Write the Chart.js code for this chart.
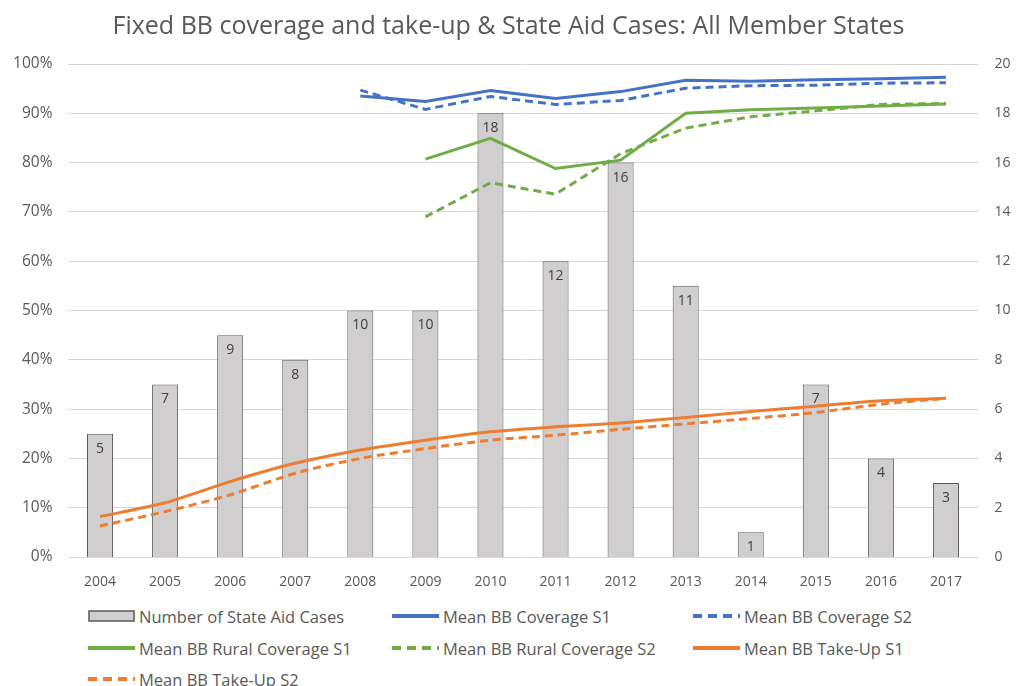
<!DOCTYPE html>
<html>
<head>
<meta charset="utf-8">
<script src="https://cdn.jsdelivr.net/npm/chart.js@4.4.1/dist/chart.umd.min.js"></script>
<style>
	body { margin: 0; background: #fff; font-family: 'Open Sans', sans-serif; }
	#wrap { position: relative; width: 1017px; height: 686px; overflow: hidden; }
	#chart { position: absolute; left: 0; top: 0; }
	.leg-item { position: absolute; display: flex; align-items: center; height: 24px;
		font-size: 16.5px; color: #595959; white-space: nowrap; }
	.leg-item svg { margin-right: 4px; }
</style>
</head>
<body>
<div id="wrap">
	<canvas id="chart" width="1017" height="600"></canvas>
	<div id="legend"></div>
</div>
<script>
const years = ['2004', '2005', '2006', '2007', '2008', '2009', '2010', '2011', '2012', '2013', '2014', '2015', '2016', '2017']

const stateAidCases = [5, 7, 9, 8, 10, 10, 18, 12, 16, 11, 1, 7, 4, 3]

const coverageS1 = [null, null, null, null, 0.935, 0.924, 0.946, 0.930, 0.944, 0.967, 0.965, 0.968, 0.970, 0.973]
const coverageS2 = [null, null, null, null, 0.947, 0.908, 0.934, 0.918, 0.926, 0.951, 0.956, 0.957, 0.961, 0.962]
const ruralS1 = [null, null, null, null, null, 0.807, 0.849, 0.788, 0.805, 0.900, 0.907, 0.911, 0.915, 0.919]
const ruralS2 = [null, null, null, null, null, 0.690, 0.759, 0.736, 0.818, 0.870, 0.893, 0.905, 0.918, 0.920]
const takeUpS1 = [0.082, 0.110, 0.153, 0.190, 0.217, 0.237, 0.254, 0.264, 0.272, 0.283, 0.295, 0.306, 0.317, 0.322]
const takeUpS2 = [0.063, 0.092, 0.126, 0.170, 0.200, 0.220, 0.237, 0.247, 0.259, 0.270, 0.281, 0.293, 0.310, 0.322]

const pctTicks = [0, 0.1, 0.2, 0.3, 0.4, 0.5, 0.6, 0.7, 0.8, 0.9, 1]
const countTicks = [0, 2, 4, 6, 8, 10, 12, 14, 16, 18, 20]

const BLUE = '#4472c4'
const GREEN = '#70ad47'
const ORANGE = '#ed7d31'
const TEXT = '#595959'
const FONT = "'Open Sans', sans-serif"

function lineSet(label, data, color, dashed, tension) {
	return {
		type: 'line',
		label: label,
		data: data,
		yAxisID: 'y',
		borderColor: color,
		backgroundColor: color,
		borderWidth: 3,
		borderDash: dashed ? [8, 5] : [],
		pointRadius: 0,
		tension: tension,
		spanGaps: false,
		order: 1,
	}
}

// bar value labels, placed inside the top of each bar
const barLabels = {
	id: 'barLabels',
	afterDatasetsDraw(chart) {
		const ctx = chart.ctx
		chart.data.datasets.forEach((ds, i) => {
			if (ds.type !== 'bar') return
			const meta = chart.getDatasetMeta(i)
			ctx.save()
			ctx.font = '14px ' + FONT
			ctx.fillStyle = '#404040'
			ctx.textAlign = 'center'
			ctx.textBaseline = 'middle'
			meta.data.forEach((bar, j) => {
				ctx.fillText(String(ds.data[j]), bar.x, bar.y + 15)
			})
			ctx.restore()
		})
	},
}

// legend in three columns below the chart
const legendCols = [88, 392, 693]
const legendRows = [616, 648, 679]

const htmlLegend = {
	id: 'htmlLegend',
	afterUpdate(chart) {
		const box = document.getElementById('legend')
		box.innerHTML = ''
		chart.data.datasets.forEach((ds, i) => {
			const item = document.createElement('div')
			item.className = 'leg-item'
			item.style.left = legendCols[i % 3] + 'px'
			item.style.top = legendRows[Math.floor(i / 3)] - 12 + 'px'
			let sym
			if (ds.type === 'bar') {
				sym = `<svg width="47" height="14"><rect x="1" y="2" width="45" height="10" fill="${ds.backgroundColor}" stroke="${ds.borderColor}" stroke-width="1.5"/></svg>`
			} else {
				const dash = ds.borderDash.length ? 'stroke-dasharray="9,6"' : ''
				sym = `<svg width="47" height="14"><line x1="0" y1="7" x2="47" y2="7" stroke="${ds.borderColor}" stroke-width="4" ${dash}/></svg>`
			}
			item.innerHTML = sym + '<span>' + ds.label + '</span>'
			box.appendChild(item)
		})
	},
}

const ctx = document.getElementById('chart').getContext('2d')
const chart = new Chart(ctx, {
	data: {
		labels: years,
		datasets: [
			{
				type: 'bar',
				label: 'Number of State Aid Cases',
				data: stateAidCases,
				yAxisID: 'y1',
				backgroundColor: '#d0cece',
				borderColor: '#595959',
				borderWidth: 1,
				barPercentage: 0.4,
				categoryPercentage: 1,
				order: 10,
			},
			lineSet('Mean BB Coverage S1', coverageS1, BLUE, false, 0),
			lineSet('Mean BB Coverage S2', coverageS2, BLUE, true, 0),
			lineSet('Mean BB Rural Coverage S1', ruralS1, GREEN, false, 0),
			lineSet('Mean BB Rural Coverage S2', ruralS2, GREEN, true, 0),
			lineSet('Mean BB Take-Up S1', takeUpS1, ORANGE, false, 0.25),
			lineSet('Mean BB Take-Up S2', takeUpS2, ORANGE, true, 0.25),
		],
	},
	options: {
		responsive: false,
		animation: false,
		layout: { padding: 0 },
		plugins: {
			legend: { display: false },
			tooltip: { enabled: false },
			title: {
				display: true,
				text: 'Fixed BB coverage and take-up & State Aid Cases: All Member States',
				color: TEXT,
				font: { family: FONT, size: 25, weight: 'normal' },
				padding: { top: 12, bottom: 22 },
			},
		},
		scales: {
			x: {
				offset: true,
				grid: { display: false },
				border: { display: false },
				ticks: { color: TEXT, font: { family: FONT, size: 14 }, padding: 9 },
				afterFit(scale) { scale.height = 43 },
			},
			y: {
				position: 'left',
				min: 0,
				max: 1,
				afterBuildTicks(scale) { scale.ticks = pctTicks.map(v => ({ value: v })) },
				grid: { color: '#d9d9d9', lineWidth: 1, drawTicks: false },
				border: { display: false },
				ticks: {
					color: TEXT,
					font: { family: FONT, size: 15.5 },
					padding: 15,
					callback: v => Math.round(v * 100) + '%',
				},
				afterFit(scale) { scale.width = 67.5 },
			},
			y1: {
				position: 'right',
				min: 0,
				max: 20,
				afterBuildTicks(scale) { scale.ticks = countTicks.map(v => ({ value: v })) },
				grid: { display: false },
				border: { display: false },
				ticks: { color: TEXT, font: { family: FONT, size: 14 }, padding: 8 },
				afterFit(scale) { scale.width = 38.5 },
			},
		},
	},
	plugins: [barLabels, htmlLegend],
})
</script>
</body>
</html>
